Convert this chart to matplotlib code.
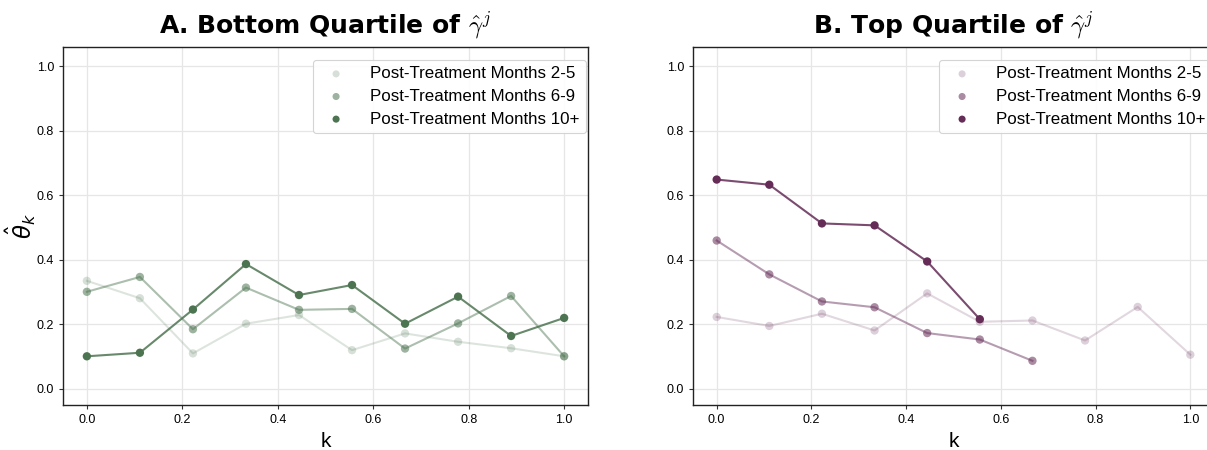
import numpy as np
import matplotlib
matplotlib.use("Agg")
import matplotlib.pyplot as plt

plt.rcParams['font.family'] = ['Liberation Sans', 'DejaVu Sans']
plt.rcParams['mathtext.fontset'] = 'cm'

k_vals = [0.0, 1/9, 2/9, 3/9, 4/9, 5/9, 6/9, 7/9, 8/9, 1.0]
labels = ["Post-Treatment Months 2-5", "Post-Treatment Months 6-9", "Post-Treatment Months 10+"]

bottom_2_5 = [0.335, 0.281, 0.110, 0.202, 0.229, 0.120, 0.172, 0.146, 0.126, 0.101]
bottom_6_9 = [0.301, 0.347, 0.185, 0.314, 0.245, 0.248, 0.125, 0.203, 0.288, 0.101]
bottom_10p = [0.101, 0.112, 0.246, 0.387, 0.291, 0.322, 0.202, 0.286, 0.164, 0.220]

top_2_5 = [0.223, 0.195, 0.233, 0.181, 0.296, 0.208, 0.212, 0.150, 0.254, 0.106]
top_6_9 = [0.460, 0.355, 0.271, 0.253, 0.173, 0.153, 0.087]
top_10p = [0.649, 0.633, 0.513, 0.507, 0.395, 0.216]

green = "#4d7451"
purple = "#642c57"
alphas = [0.22, 0.55, 1.0]

fig = plt.figure(figsize=(12.07, 4.5), dpi=100)
ax1 = fig.add_axes([63/1207, 45/450, 525/1207, 358/450])
ax2 = fig.add_axes([693/1207, 45/450, 521/1207, 358/450])

def draw(ax, series, color, title):
    for s, a, lab in zip(series, alphas, labels):
        x = k_vals[:len(s)]
        ax.plot(x, s, color=color, alpha=a * 0.85, lw=1.5, zorder=2)
        ax.scatter(x, s, color=color, alpha=a, s=36, zorder=3, label=lab, edgecolors='none')
    ax.set_xlim(-0.05, 1.05)
    ax.set_ylim(-0.05, 1.06)
    ax.set_xticks([0.0, 0.2, 0.4, 0.6, 0.8, 1.0])
    ax.set_yticks([0.0, 0.2, 0.4, 0.6, 0.8, 1.0])
    ax.grid(True, color="#e6e6e6", lw=0.9, zorder=0)
    ax.set_axisbelow(True)
    ax.tick_params(labelsize=9, length=3, width=0.8, color="#333333")
    for sp in ax.spines.values():
        sp.set_color("#222222")
        sp.set_linewidth(1.0)
    ax.set_xlabel("k", fontsize=15, labelpad=4)
    ax.set_title(title, fontsize=18, fontweight='bold', pad=10,
                 family=['DejaVu Sans'])
    leg = ax.legend(loc='upper right', bbox_to_anchor=(0.996, 0.964),
                    borderaxespad=0.0, fontsize=12.2, frameon=True, framealpha=0.9,
                    edgecolor="#d0d0d0", handletextpad=1.0, borderpad=0.38,
                    labelspacing=0.45, markerscale=0.85)
    leg.get_frame().set_linewidth(0.8)

draw(ax1, [bottom_2_5, bottom_6_9, bottom_10p], green, r"A. Bottom Quartile of $\hat{\gamma}^j$")
draw(ax2, [top_2_5, top_6_9, top_10p], purple, r"B. Top Quartile of $\hat{\gamma}^j$")
ax1.set_ylabel(r"$\hat{\theta}_k$", fontsize=16.5, math_fontfamily='dejavusans')
ax1.yaxis.set_label_coords(-0.047, 0.5)

fig.savefig("out.png", dpi=100)
